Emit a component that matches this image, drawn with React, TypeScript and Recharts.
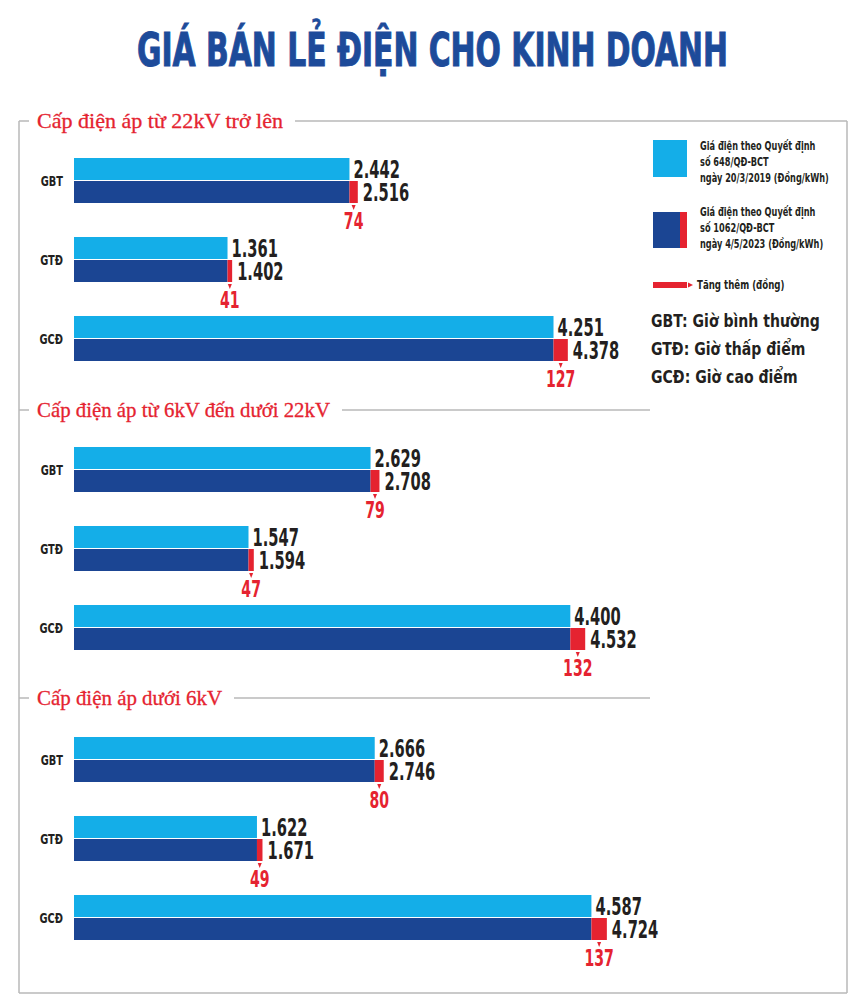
import React from 'react'
import {Bar, BarChart, LabelList, XAxis, YAxis} from 'recharts'

const categories = ['GBT', 'GTĐ', 'GCĐ']
const sectionTitles = [
    'Cấp điện áp từ 22kV trở lên',
    'Cấp điện áp từ 6kV đến dưới 22kV',
    'Cấp điện áp dưới 6kV',
]
// giá điện theo QĐ 648/QĐ-BCT (20/3/2019)
const oldPrice22kV = [2442, 1361, 4251]
const oldPrice6to22kV = [2629, 1547, 4400]
const oldPriceUnder6kV = [2666, 1622, 4587]
// giá điện theo QĐ 1062/QĐ-BCT (4/5/2023)
const newPrice22kV = [2516, 1402, 4378]
const newPrice6to22kV = [2708, 1594, 4532]
const newPriceUnder6kV = [2746, 1671, 4724]

const legendOld = ['Giá điện theo Quyết định', 'số 648/QĐ-BCT', 'ngày 20/3/2019 (Đồng/kWh)']
const legendNew = ['Giá điện theo Quyết định', 'số 1062/QĐ-BCT', 'ngày 4/5/2023 (Đồng/kWh)']
const legendInc = 'Tăng thêm (đồng)'
const abbreviations = ['GBT: Giờ bình thường', 'GTĐ: Giờ thấp điểm', 'GCĐ: Giờ cao điểm']

const LIGHT = '#14aee8'
const DARK = '#1b4593'
const RED = '#e52330'
const INK = '#231f20'
const LINE = '#b9b9b9'
const NARROW = "'DejaVu Sans Condensed', 'Liberation Sans Narrow', sans-serif"
const SERIF = "'Liberation Serif', 'DejaVu Serif', serif"

const fmt = (v: number) => String(v).replace(/\B(?=(\d{3})+(?!\d))/g, '.')

// chữ hẹp: co ngang bằng transform
const Narrow = (props: {
    x: number, y: number, sx: number, size: number, fill?: string, anchor?: 'start' | 'middle' | 'end',
    children: React.ReactNode
}) => (
    <text transform={`translate(${props.x},${props.y}) scale(${props.sx},1)`} x={0} y={0}
          textAnchor={props.anchor || 'start'} fontSize={props.size} fontWeight='bold'
          fontFamily={NARROW} fill={props.fill || INK}>
        {props.children}
    </text>
)

const box = (p: any) => {
    const vb = p.viewBox || {}
    return {
        x: vb.x ?? p.x,
        y: vb.y ?? p.y,
        width: vb.width ?? p.width,
        height: vb.height ?? p.height,
    }
}

const CategoryTick = (props: any) => (
    <Narrow x={63} y={props.y + 5} sx={0.78} size={14} anchor='end'>{props.payload.value}</Narrow>
)

const OldLabel = (p: any) => {
    const b = box(p)
    return <Narrow x={b.x + b.width + 4} y={b.y + b.height / 2 + 8.5} sx={0.68} size={24}>{fmt(p.value)}</Narrow>
}

const NewLabel = (p: any) => {
    const b = box(p)
    return <Narrow x={b.x + b.width + 5} y={b.y + b.height / 2 + 8.5} sx={0.68} size={24}>{fmt(p.value)}</Narrow>
}

const IncLabel = (p: any) => {
    const b = box(p)
    const cx = b.x + b.width / 2
    const by = b.y + b.height
    return (
        <g>
            <path d={`M${cx - 2},${by + 2} L${cx + 2},${by + 2} L${cx},${by + 7} Z`} fill={RED}/>
            <Narrow x={cx} y={by + 26} sx={0.68} size={23} anchor='middle' fill={RED}>{p.value}</Narrow>
        </g>
    )
}

const PriceChart = (props: { top: number, oldPrice: number[], newPrice: number[] }) => {
    const data = categories.map((name, i) => ({
        name,
        oldPrice: props.oldPrice[i],
        base: props.oldPrice[i],
        inc: props.newPrice[i] - props.oldPrice[i],
        newPrice: props.newPrice[i],
    }))
    return (
        <div style={{position: 'absolute', left: 0, top: props.top}}>
            <BarChart
                layout='vertical'
                width={700}
                height={262}
                data={data}
                margin={{top: 0, right: 62, bottom: 25, left: 0}}
                barSize={22}
                barGap={1}
                style={{overflow: 'visible'}}
            >
                <XAxis type='number' domain={[0, 5000]} hide/>
                <YAxis type='category' dataKey='name' width={74} axisLine={false} tickLine={false}
                       tick={<CategoryTick/>}/>
                <Bar dataKey='oldPrice' stackId='old' fill={LIGHT} isAnimationActive={false}>
                    <LabelList dataKey='oldPrice' content={<OldLabel/>}/>
                </Bar>
                <Bar dataKey='base' stackId='new' fill={DARK} isAnimationActive={false}/>
                <Bar dataKey='inc' stackId='new' fill={RED} isAnimationActive={false}>
                    <LabelList dataKey='newPrice' content={<NewLabel/>}/>
                    <LabelList dataKey='inc' content={<IncLabel/>}/>
                </Bar>
            </BarChart>
        </div>
    )
}

const sections = [
    {title: sectionTitles[0], lineY: 121, textW: 246, lineEnd: 847, top: 141, oldPrice: oldPrice22kV, newPrice: newPrice22kV},
    {title: sectionTitles[1], lineY: 410, textW: 293, lineEnd: 650, top: 430, oldPrice: oldPrice6to22kV, newPrice: newPrice6to22kV},
    {title: sectionTitles[2], lineY: 698, textW: 185, lineEnd: 650, top: 720, oldPrice: oldPriceUnder6kV, newPrice: newPriceUnder6kV},
]

const Background = () => (
    <svg width={857} height={1002} style={{position: 'absolute', left: 0, top: 0}}>
        <text x={432.5} y={66} textAnchor='middle' fontSize={46} fontWeight='bold' fontFamily={NARROW}
              fill='#1d4b9a' stroke='#1d4b9a' strokeWidth={1} textLength={591} lengthAdjust='spacingAndGlyphs'>
            GIÁ BÁN LẺ ĐIỆN CHO KINH DOANH
        </text>
        {/* khung */}
        <line x1={19} y1={121} x2={19} y2={993} stroke={LINE} strokeWidth={1.5}/>
        <line x1={19} y1={993} x2={847} y2={993} stroke={LINE} strokeWidth={1.5}/>
        <line x1={847} y1={121} x2={847} y2={993} stroke={LINE} strokeWidth={1.5}/>
        {sections.map(s => (
            <g key={s.title}>
                <line x1={19} y1={s.lineY} x2={29} y2={s.lineY} stroke={LINE} strokeWidth={1.5}/>
                <line x1={37 + s.textW + 12} y1={s.lineY} x2={s.lineEnd} y2={s.lineY} stroke={LINE} strokeWidth={1.5}/>
                <text x={37} y={s.lineY + 7} fontSize={21} fontFamily={SERIF} fill={RED}
                      stroke={RED} strokeWidth={0.3}
                      textLength={s.textW} lengthAdjust='spacingAndGlyphs'>
                    {s.title}
                </text>
            </g>
        ))}
        {/* chú thích */}
        <rect x={653} y={140} width={34} height={37} fill={LIGHT}/>
        {legendOld.map((t, i) => (
            <Narrow key={'o' + i} x={700} y={150 + i * 16} sx={0.76} size={12}>{t}</Narrow>
        ))}
        <rect x={653} y={212} width={34} height={36} fill={DARK}/>
        <rect x={680} y={212} width={7} height={36} fill={RED}/>
        {legendNew.map((t, i) => (
            <Narrow key={'n' + i} x={700} y={216 + i * 16} sx={0.76} size={12}>{t}</Narrow>
        ))}
        <rect x={653} y={282} width={34} height={6} fill={RED}/>
        <path d='M688,282.5 L693,285 L688,287.5 Z' fill={RED}/>
        <Narrow x={697} y={289} sx={0.8} size={12}>{legendInc}</Narrow>
        {abbreviations.map((t, i) => (
            <Narrow key={t} x={651} y={327 + i * 28} sx={0.92} size={17}>{t}</Narrow>
        ))}
    </svg>
)

const App = () => {
    return (
        <div style={{position: 'absolute', left: 0, top: 0, width: 857, height: 1002, background: '#fff'}}>
            <Background/>
            {sections.map(s => (
                <PriceChart key={s.title} top={s.top} oldPrice={s.oldPrice} newPrice={s.newPrice}/>
            ))}
        </div>
    )
}

export default App
